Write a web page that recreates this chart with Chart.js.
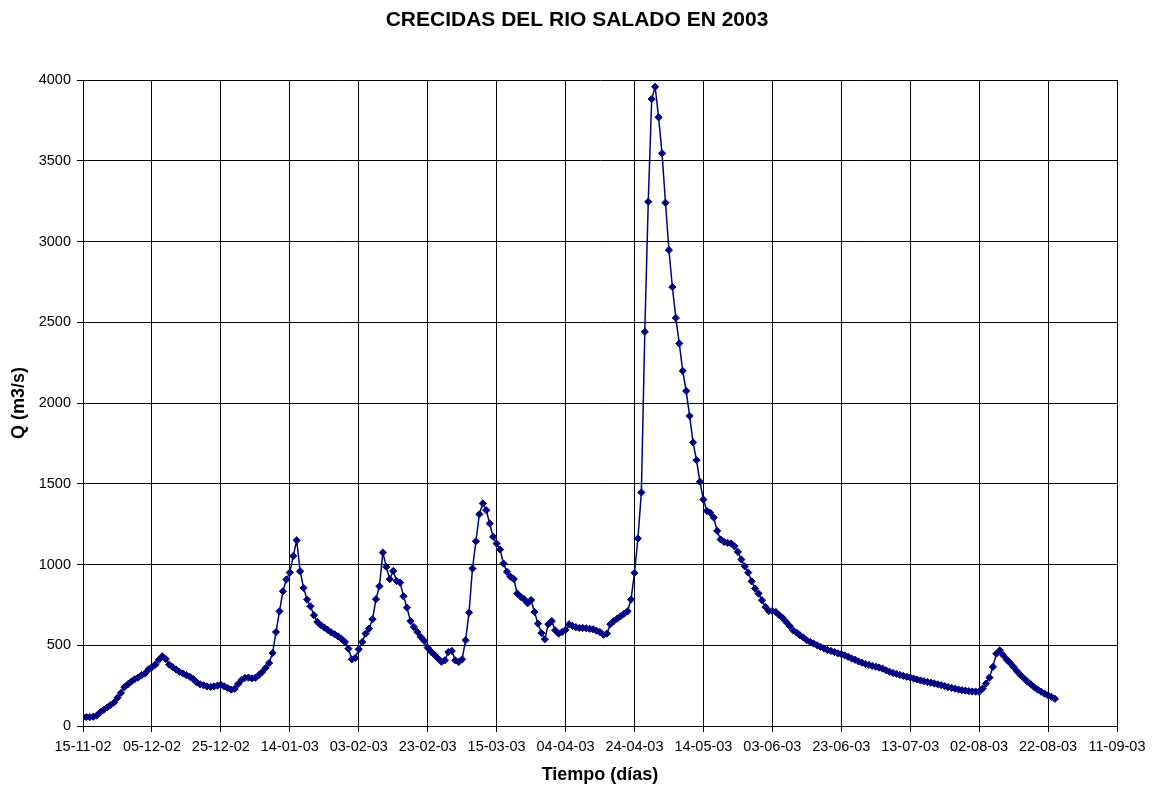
<!DOCTYPE html>
<html lang="es">
<head>
<meta charset="utf-8">
<title>Crecidas del Rio Salado en 2003</title>
<script src="https://cdn.jsdelivr.net/npm/chart.js@4.4.1/dist/chart.umd.min.js"></script>
<style>
    html, body { margin: 0; padding: 0; background: #fff; }
    #chart-wrap { width: 1154px; height: 787px; }
</style>
</head>
<body>
<div id="chart-wrap">
    <canvas id="salado-chart" width="1154" height="787"></canvas>
</div>
<script>
// Daily discharge Q (m3/s), one value per day starting 15-11-02
const flow = [
    55, 55, 55, 58, 65, 85, 100, 115, 130, 145,
    175, 205, 240, 258, 275, 290, 300, 315, 325, 350,
    365, 380, 410, 432, 415, 380, 365, 350, 335, 325,
    315, 305, 290, 270, 258, 252, 245, 242, 245, 250,
    255, 245, 235, 225, 230, 260, 285, 298, 300, 295,
    298, 315, 335, 360, 390, 452, 582, 710, 834, 907,
    950, 1053, 1150, 958, 855, 783, 741, 686, 644, 625,
    610, 595, 580, 568, 555, 540, 520, 479, 413, 421,
    475, 520, 572, 603, 661, 785, 865, 1074, 985, 909,
    960, 898, 888, 803, 733, 650, 613, 582, 551, 527,
    485, 460, 440, 418, 398, 407, 458, 465, 407, 396,
    413, 531, 702, 975, 1144, 1311, 1378, 1336, 1254, 1171,
    1130, 1093, 1006, 955, 925, 910, 820, 800, 785, 760,
    780, 706, 634, 576, 537, 630, 650, 593, 572, 582,
    595, 630, 620, 612, 607, 607, 605, 602, 599, 590,
    582, 565, 572, 630, 650, 665, 680, 695, 710, 783,
    948, 1161, 1446, 2441, 3246, 3882, 3958, 3769, 3546, 3240,
    2947, 2718, 2527, 2369, 2199, 2075, 1920, 1756, 1646, 1512,
    1402, 1332, 1320, 1291, 1208, 1155, 1140, 1134, 1130, 1113,
    1078, 1031, 989, 950, 896, 851, 820, 779, 737, 712,
    712, 706, 686, 669, 644, 620, 593, 579, 562, 548,
    531, 520, 510, 500, 490, 480, 470, 465, 458, 450,
    445, 437, 428, 418, 410, 400, 392, 384, 378, 372,
    367, 362, 355, 345, 336, 328, 322, 316, 310, 305,
    300, 294, 288, 282, 277, 272, 268, 263, 258, 253,
    247, 241, 236, 231, 226, 222, 219, 216, 214, 213,
    212, 232, 263, 300, 366, 448, 469, 438, 411, 390,
    366, 339, 315, 295, 275, 258, 240, 225, 212, 200,
    190, 180, 168
];

// x axis: one tick every 20 days
const dateLabels = [
    '15-11-02', '05-12-02', '25-12-02', '14-01-03', '03-02-03', '23-02-03',
    '15-03-03', '04-04-03', '24-04-03', '14-05-03', '03-06-03', '23-06-03',
    '13-07-03', '02-08-03', '22-08-03', '11-09-03'
];
const dayStep = 20;
const dayMax = 300;

// y axis
const qMax = 4000;
const qStep = 500;

const chartTitle = 'CRECIDAS DEL RIO SALADO EN 2003';
const xTitle = 'Tiempo (días)';
const yTitle = 'Q (m3/s)';

document.addEventListener('DOMContentLoaded', function() {
    const ctx = document.getElementById('salado-chart').getContext('2d');
    const fontFamily = 'Arial, "Liberation Sans", Helvetica, sans-serif';
    const navy = '#000080';

    const points = flow.map((q, day) => ({ x: day, y: q }));

    const config = {
        type: 'line',
        data: {
            datasets: [{
                label: 'Q',
                data: points,
                borderColor: navy,
                borderWidth: 1.5,
                backgroundColor: navy,
                pointStyle: 'rectRot',
                pointRadius: 3.6,
                pointBorderWidth: 1,
                pointBackgroundColor: navy,
                pointBorderColor: navy,
                tension: 0,
                fill: false
            }]
        },
        options: {
            responsive: false,
            animation: false,
            devicePixelRatio: 1,
            layout: {
                padding: 0
            },
            scales: {
                x: {
                    type: 'linear',
                    min: 0,
                    max: dayMax,
                    // fixed axis band height, and room on the right for the last date
                    afterFit: (scale) => {
                        scale.height = 61;
                        scale.paddingRight = 37;
                    },
                    ticks: {
                        stepSize: dayStep,
                        autoSkip: false,
                        maxRotation: 0,
                        padding: 6,
                        color: '#000',
                        font: { family: fontFamily, size: 14.5 },
                        callback: (value, index) => dateLabels[index]
                    },
                    grid: {
                        color: '#000',
                        lineWidth: 1,
                        tickLength: 6
                    },
                    border: { color: '#000', width: 1 },
                    title: {
                        display: true,
                        text: xTitle,
                        color: '#000',
                        font: { family: fontFamily, size: 18, weight: 'bold' },
                        padding: { top: 0, bottom: 1 }
                    }
                },
                y: {
                    min: 0,
                    max: qMax,
                    afterFit: (scale) => { scale.width = 83; },
                    ticks: {
                        stepSize: qStep,
                        padding: 6,
                        color: '#000',
                        font: { family: fontFamily, size: 14.5 },
                        callback: (value) => String(value)
                    },
                    grid: {
                        color: '#000',
                        lineWidth: 1,
                        tickLength: 6
                    },
                    border: { color: '#000', width: 1 },
                    title: {
                        display: true,
                        text: yTitle,
                        color: '#000',
                        font: { family: fontFamily, size: 18, weight: 'bold' },
                        padding: { top: 8, bottom: 0 }
                    }
                }
            },
            plugins: {
                legend: { display: false },
                tooltip: { enabled: false },
                title: {
                    display: true,
                    text: chartTitle,
                    color: '#000',
                    font: { family: fontFamily, size: 21, weight: 'bold' },
                    padding: { top: 7.4, bottom: 47.4 }
                }
            }
        }
    };

    new Chart(ctx, config);
});
</script>
</body>
</html>
